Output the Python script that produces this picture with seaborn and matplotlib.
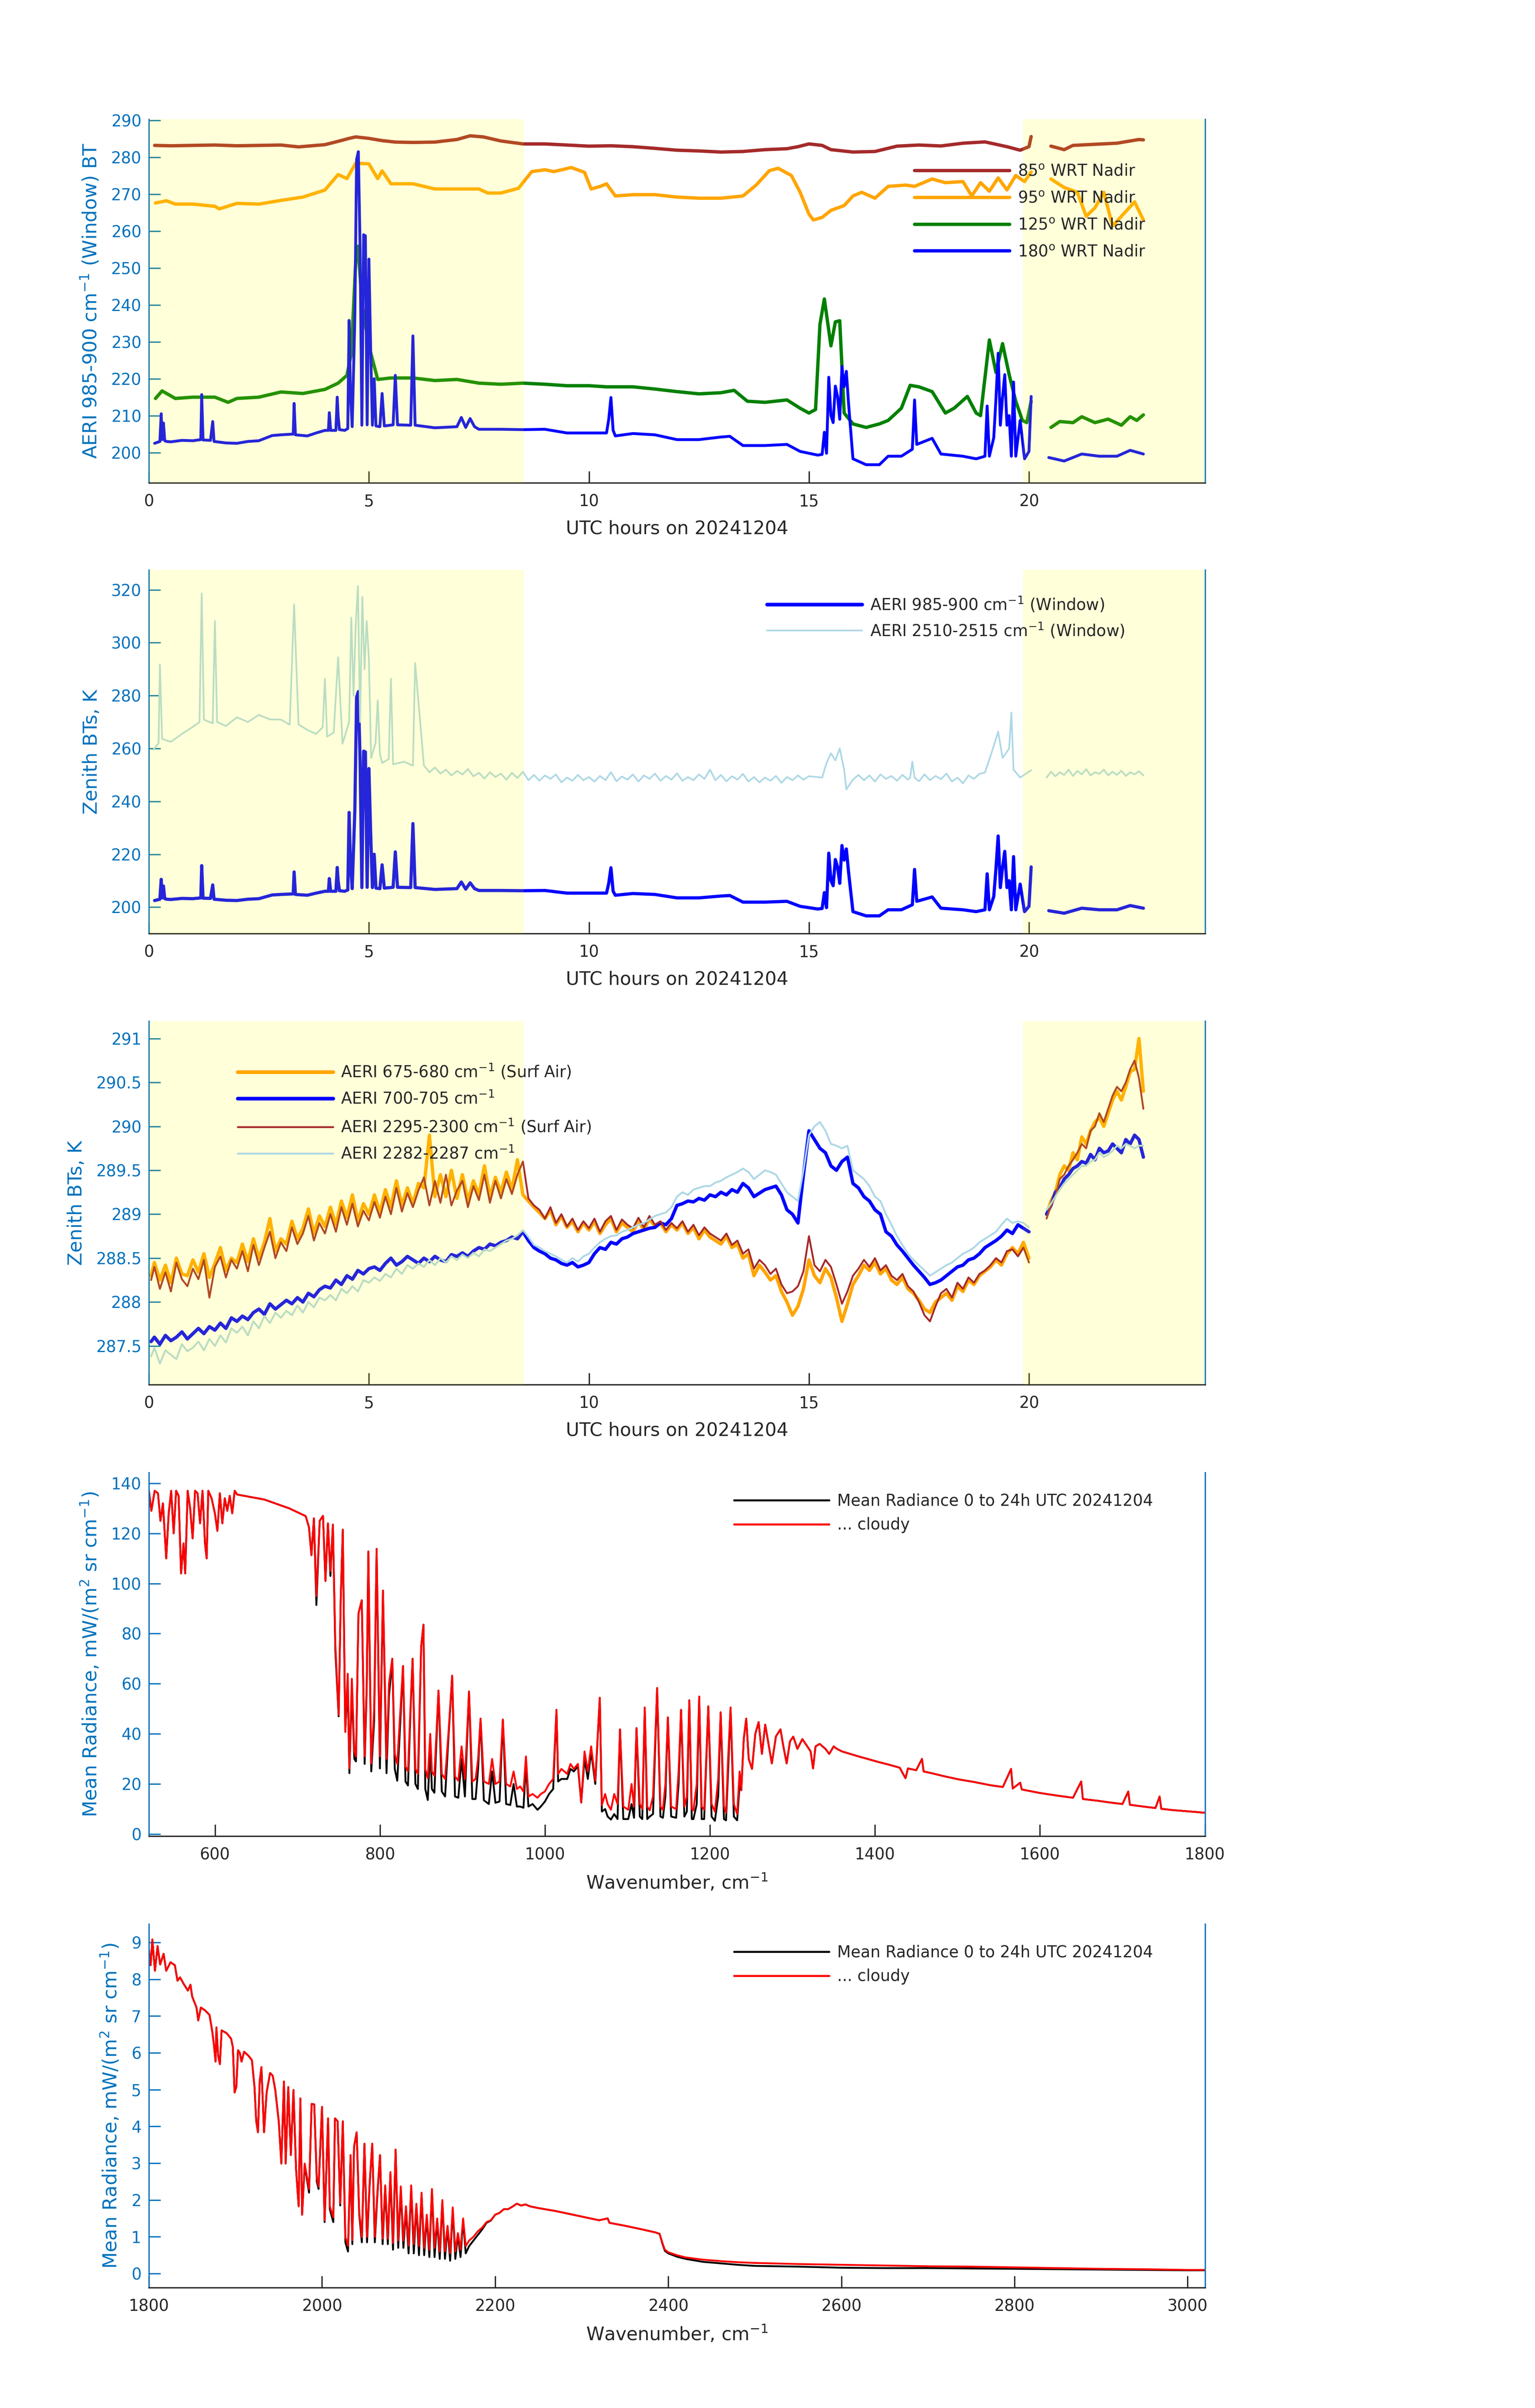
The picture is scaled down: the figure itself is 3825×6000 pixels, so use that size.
import numpy as np
import pandas as pd
import matplotlib
matplotlib.use('Agg')
import matplotlib.pyplot as plt
from matplotlib.lines import Line2D
from matplotlib.ticker import FuncFormatter
import seaborn as sns

nan = np.nan

# ---------------- panel 1 / 2 : window BTs vs UTC hour ----------------
T_85 = [0.13, 0.5, 1.0, 1.5, 2.0, 2.5, 3.0, 3.4, 3.7, 4.0,
        4.3, 4.55, 4.7, 5.0, 5.3, 5.6, 6.0, 6.5, 7.0, 7.3,
        7.6, 8.0, 8.5, 9.0, 9.5, 10.0, 10.5, 11.0, 11.5, 12.0,
        12.5, 13.0, 13.5, 14.0, 14.5, 14.75, 15.0, 15.3, 15.5, 16.0,
        16.5, 17.0, 17.5, 18.0, 18.5, 19.0, 19.5, 19.8, 20.0, 20.05,
        nan, 20.5, 20.8, 21.0, 21.5, 22.0, 22.5, 22.6]
BT_85 = [283.2, 283.1, 283.2, 283.3, 283.1, 283.2, 283.3, 282.8, 283.1, 283.4,
         284.3, 285.1, 285.5, 285.1, 284.5, 284.1, 284.0, 284.1, 284.8, 285.8,
         285.5, 284.4, 283.6, 283.6, 283.3, 283.0, 283.1, 282.85, 282.4, 281.9,
         281.7, 281.4, 281.55, 282.05, 282.3, 282.85, 283.6, 283.2, 282.05, 281.4,
         281.55, 283.0, 283.3, 283.05, 283.8, 284.15, 282.85, 281.9, 282.85, 285.6,
         nan, 283.0, 282.05, 283.2, 283.5, 283.8, 284.8, 284.7]

T_95 = [0.15, 0.4, 0.6, 1.0, 1.5, 1.6, 2.0, 2.5, 3.0, 3.5,
        4.0, 4.3, 4.5, 4.7, 5.0, 5.2, 5.3, 5.5, 6.0, 6.5,
        7.0, 7.5, 7.7, 8.0, 8.4, 8.7, 9.0, 9.2, 9.6, 9.9,
        10.05, 10.26, 10.4, 10.6, 11.0, 11.5, 12.0, 12.5, 13.0, 13.5,
        13.8, 14.1, 14.3, 14.6, 14.8, 15.0, 15.1, 15.3, 15.5, 15.8,
        16.0, 16.2, 16.5, 16.8, 17.2, 17.4, 17.6, 17.8, 18.1, 18.5,
        18.7, 18.9, 19.1, 19.3, 19.5, 19.7, 19.9, 20.05,
        nan, 20.5, 20.8, 21.1, 21.3, 21.5, 21.7, 21.9, 22.2, 22.4, 22.6]
BT_95 = [267.6, 268.2, 267.3, 267.3, 266.7, 266.0, 267.5, 267.3, 268.3, 269.2,
         271.1, 275.3, 274.2, 278.4, 278.2, 274.2, 276.3, 272.8, 272.8, 271.4,
         271.4, 271.4, 270.3, 270.3, 271.6, 276.1, 276.6, 276.1, 277.2, 275.9,
         271.4, 272.1, 272.8, 269.5, 269.85, 269.85, 269.2, 268.9, 268.9, 269.5,
         272.45, 276.35, 277.0, 275.05, 270.5, 264.6, 263.0, 263.7, 265.6, 266.9,
         269.5, 270.5, 268.9, 272.1, 272.45, 272.1, 273.1, 274.1, 273.1, 273.4,
         269.5, 273.1, 270.8, 274.4, 271.15, 275.05, 273.4, 276.0,
         nan, 274.1, 271.8, 270.5, 264.0, 266.3, 270.5, 261.4, 265.3, 267.9, 263.0]

T_125 = [0.15, 0.3, 0.6, 1.0, 1.5, 1.8, 2.0, 2.5, 3.0, 3.5,
         4.0, 4.3, 4.5, 4.6, 4.7, 4.75, 4.85, 5.0, 5.2, 5.5,
         6.0, 6.5, 7.0, 7.5, 8.0, 8.5, 9.0, 9.5, 10.0, 10.4,
         11.0, 11.5, 12.0, 12.5, 13.0, 13.3, 13.6, 14.0, 14.5, 14.8,
         15.0, 15.15, 15.25, 15.35, 15.5, 15.6, 15.7, 15.8, 16.0, 16.3,
         16.6, 16.8, 17.1, 17.3, 17.5, 17.8, 18.1, 18.3, 18.6, 18.8,
         18.9, 19.1, 19.25, 19.4, 19.55, 19.7, 19.85, 19.95, 20.05,
         nan, 20.5, 20.7, 21.0, 21.2, 21.5, 21.8, 22.1, 22.3, 22.45, 22.6]
BT_125 = [214.65, 216.7, 214.65, 215.0, 215.0, 213.6, 214.65, 215.0, 216.4, 216.0,
          217.1, 218.8, 220.9, 226.8, 251.7, 255.9, 239.9, 228.85, 219.8, 220.2,
          220.2, 219.5, 219.8, 218.8, 218.5, 218.8, 218.5, 218.1, 218.1, 217.8,
          217.8, 217.2, 216.5, 215.9, 216.2, 216.85, 213.9, 213.6, 214.25, 212.0,
          210.7, 211.65, 234.7, 241.6, 228.9, 235.4, 235.7, 210.7, 207.75, 206.8,
          207.75, 208.7, 212.0, 218.2, 217.8, 216.5, 210.7, 212.0, 215.2, 210.7,
          210.0, 230.5, 221.7, 229.5, 221.1, 213.9, 208.7, 208.1, 213.9,
          nan, 206.8, 208.4, 208.1, 209.7, 208.1, 209.05, 207.4, 209.7, 208.7, 210.2]

T_180 = [0.13, 0.25, 0.28, 0.3, 0.33, 0.36, 0.4, 0.5, 0.75, 1.0,
         1.18, 1.2, 1.23, 1.4, 1.45, 1.48, 1.75, 2.0, 2.25, 2.5,
         2.8, 3.0, 3.28, 3.3, 3.33, 3.6, 3.8, 4.0, 4.08, 4.1,
         4.13, 4.25, 4.28, 4.3, 4.33, 4.45, 4.52, 4.55, 4.58, 4.62,
         4.68, 4.72, 4.76, 4.8, 4.84, 4.88, 4.92, 4.96, 5.0, 5.04,
         5.08, 5.12, 5.16, 5.25, 5.3, 5.35, 5.55, 5.6, 5.65, 5.95,
         6.0, 6.05, 6.5, 7.0, 7.1, 7.2, 7.3, 7.4, 7.5, 8.0,
         8.5, 9.0, 9.5, 10.0, 10.4, 10.45, 10.5, 10.55, 10.6, 11.0,
         11.5, 12.0, 12.5, 13.0, 13.2, 13.5, 14.0, 14.5, 14.8, 15.2,
         15.3, 15.35, 15.4, 15.45, 15.5, 15.55, 15.6, 15.65, 15.7, 15.75,
         15.8, 15.85, 15.9, 16.0, 16.3, 16.6, 16.8, 17.1, 17.35, 17.4,
         17.45, 17.8, 18.0, 18.5, 18.8, 19.0, 19.05, 19.1, 19.2, 19.25,
         19.3, 19.35, 19.4, 19.45, 19.5, 19.55, 19.6, 19.65, 19.7, 19.8,
         19.9, 20.0, 20.05, nan, 20.45, 20.8, 21.2, 21.6, 22.0, 22.3,
         22.6]
BT_180 = [202.5, 203.0, 210.5, 203.5, 208.0, 203.2, 203.0, 202.9, 203.3, 203.2,
          203.5, 215.7, 203.4, 203.3, 208.4, 203.0, 202.6, 202.5, 203.0, 203.2,
          204.6, 204.8, 205.0, 213.3, 204.8, 204.5, 205.3, 206.0, 206.0, 210.8,
          206.0, 206.0, 215.0, 210.0, 206.2, 206.0, 206.5, 235.8, 216.4, 207.0,
          236.5, 279.4, 281.5, 255.2, 207.4, 259.0, 258.7, 207.5, 252.4, 227.8,
          207.4, 220.0, 207.2, 207.0, 216.0, 207.2, 207.5, 220.9, 207.5, 207.4,
          231.6, 207.4, 206.7, 207.0, 209.5, 206.8, 209.2, 207.0, 206.3, 206.3,
          206.2, 206.3, 205.3, 205.3, 205.3, 209.0, 214.9, 206.0, 204.5, 205.15,
          204.8, 203.5, 203.5, 204.2, 204.4, 201.9, 201.9, 202.2, 200.3, 199.3,
          199.5, 205.5, 199.8, 220.4, 210.0, 208.1, 218.0, 215.2, 209.0, 223.3,
          217.8, 222.0, 213.3, 198.3, 196.7, 196.7, 199.0, 199.0, 200.9, 214.25,
          202.2, 203.85, 199.6, 199.0, 198.3, 199.0, 212.6, 199.0, 204.0, 214.6,
          226.9, 207.4, 215.0, 221.1, 207.4, 210.0, 199.0, 219.1, 199.0, 208.7,
          198.3, 200.3, 215.2, nan, 198.65, 197.7, 199.6, 199.0, 199.0, 200.6,
          199.6]

T_2510 = [0.1, 0.22, 0.25, 0.3, 0.5, 0.75, 1.0, 1.15, 1.2, 1.25,
          1.45, 1.5, 1.55, 1.75, 2.0, 2.25, 2.5, 2.75, 3.0, 3.2,
          3.3, 3.4, 3.6, 3.8, 3.95, 4.0, 4.05, 4.2, 4.3, 4.4,
          4.55, 4.6, 4.65, 4.7, 4.75, 4.8, 4.85, 4.9, 4.95, 5.0,
          5.05, 5.15, 5.2, 5.25, 5.3, 5.45, 5.5, 5.55, 5.8, 6.0,
          6.05,
          6.25, 6.375, 6.5, 6.625, 6.75, 6.875, 7.0, 7.125,
          7.25, 7.375, 7.5, 7.625, 7.75, 7.875, 8.0, 8.125,
          8.25, 8.375, 8.5, 8.625, 8.75, 8.875, 9.0, 9.125,
          9.25, 9.375, 9.5, 9.625, 9.75, 9.875, 10.0, 10.125,
          10.25, 10.375, 10.5, 10.625, 10.75, 10.875, 11.0, 11.125,
          11.25, 11.375, 11.5, 11.625, 11.75, 11.875, 12.0, 12.125,
          12.25, 12.375, 12.5, 12.625, 12.75, 12.875, 13.0, 13.125,
          13.25, 13.375, 13.5, 13.625, 13.75, 13.875, 14.0, 14.125,
          14.25, 14.375, 14.5, 14.625, 14.75, 14.875, 15.0,
          15.3, 15.4, 15.5, 15.6, 15.7, 15.8, 15.85, 16.0,
          16.125, 16.25, 16.375, 16.5, 16.625, 16.75, 16.875, 17.0,
          17.125, 17.25, 17.3, 17.35, 17.4, 17.5, 17.625, 17.75,
          17.875, 18.0, 18.125, 18.25, 18.375, 18.5, 18.625, 18.75,
          18.875, 19.0,
          19.2, 19.3, 19.4, 19.55, 19.6, 19.65, 19.8, 20.05, nan,
          20.4, 20.5, 20.6, 20.7, 20.8, 20.9, 21.0, 21.1, 21.2, 21.3,
          21.4, 21.5, 21.6, 21.7, 21.8, 21.9, 22.0, 22.1, 22.2, 22.3,
          22.4, 22.5, 22.6]
BT_2510 = [259.5, 262.0, 291.8, 263.6, 262.5, 265.5, 268.2, 270.0, 318.6, 270.9,
           269.5, 308.2, 270.0, 268.5, 271.8, 270.0, 272.7, 271.0, 270.9, 269.0,
           314.5, 269.1, 267.0, 265.5, 268.0, 286.4, 264.5, 266.0, 294.5, 261.8,
           270.0, 309.5, 280.0, 306.4, 321.4, 270.0, 317.3, 290.0, 308.2, 293.6,
           256.4, 262.0, 278.2, 258.0, 254.5, 256.0, 286.4, 254.0, 255.0, 253.5,
           292.3,
           253.6, 251.0, 252.8, 250.5, 252.0, 249.8, 251.5, 250.2,
           252.2, 249.5, 250.8, 248.6, 251.0, 249.2, 250.5, 248.2,
           250.8, 248.8, 251.2, 248.0, 250.0, 247.8, 249.8, 248.5,
           250.2, 247.2, 249.0, 247.8, 250.0, 248.0, 249.2, 247.5,
           249.6, 248.0, 251.0, 247.6, 249.4, 248.2, 250.2, 247.5,
           249.8, 248.5, 250.5, 247.8, 249.6, 248.2, 250.6, 247.8,
           249.2, 248.0, 250.2, 248.5, 252.0, 248.0, 250.0, 247.6,
           249.5, 248.2, 250.4, 247.5, 249.2, 247.2, 249.0, 247.8,
           249.6, 247.0, 249.2, 248.0, 249.8, 248.2, 249.5,
           249.0, 254.5, 258.2, 255.5, 260.0, 252.0, 244.5, 248.2,
           250.0, 248.0, 249.8, 247.5, 250.2, 248.5, 249.6, 247.8,
           250.0, 248.2, 249.0, 255.0, 249.0, 247.6, 250.2, 248.0,
           249.6, 248.4, 250.5, 247.5, 249.0, 246.8, 249.8, 248.5,
           250.4, 250.9,
           260.9, 266.4, 256.4, 260.0, 273.6, 252.0, 249.0, 251.8, nan,
           249.0, 251.2, 249.5, 251.0, 250.0, 252.0, 249.6, 251.5, 250.2, 252.2,
           249.8, 251.0, 250.4, 252.0, 249.8, 251.2, 250.0, 251.6, 249.6, 251.0,
           250.2, 251.4, 249.8]

# ---------------- panel 3 : surface-air channels ----------------
T3 = [0.05, 0.125, 0.25, 0.375, 0.5, 0.625, 0.75, 0.875, 1.0,
      1.125, 1.25, 1.375, 1.5, 1.625, 1.75, 1.875, 2.0,
      2.125, 2.25, 2.375, 2.5, 2.625, 2.75, 2.875, 3.0,
      3.125, 3.25, 3.375, 3.5, 3.625, 3.75, 3.875, 4.0,
      4.125, 4.25, 4.375, 4.5, 4.625, 4.75, 4.875, 5.0,
      5.125, 5.25, 5.375, 5.5, 5.625, 5.75, 5.875, 6.0,
      6.125, 6.25, 6.375, 6.5, 6.625, 6.75, 6.875, 7.0,
      7.125, 7.25, 7.375, 7.5, 7.625, 7.75, 7.875, 8.0,
      8.125, 8.25, 8.375, 8.5, 8.625, 8.75, 8.875, 9.0,
      9.125, 9.25, 9.375, 9.5, 9.625, 9.75, 9.875, 10.0,
      10.125, 10.25, 10.375, 10.5, 10.625, 10.75, 10.875, 11.0,
      11.125, 11.25, 11.375, 11.5, 11.625, 11.75, 11.875, 12.0,
      12.125, 12.25, 12.375, 12.5, 12.625, 12.75, 12.875, 13.0,
      13.125, 13.25, 13.375, 13.5, 13.625, 13.75, 13.875, 14.0,
      14.125, 14.25, 14.375, 14.5, 14.625, 14.75, 14.875, 15.0,
      15.125, 15.25, 15.375, 15.5, 15.625, 15.75, 15.875, 16.0,
      16.125, 16.25, 16.375, 16.5, 16.625, 16.75, 16.875, 17.0,
      17.125, 17.25, 17.375, 17.5, 17.625, 17.75, 17.875, 18.0,
      18.125, 18.25, 18.375, 18.5, 18.625, 18.75, 18.875, 19.0,
      19.125, 19.25, 19.375, 19.5, 19.625, 19.75, 19.875, 20.0,
      nan,
      20.4, 20.5, 20.6, 20.7, 20.8, 20.9, 21.0, 21.1, 21.2, 21.3,
      21.4, 21.5, 21.6, 21.7, 21.8, 21.9, 22.0, 22.1, 22.2, 22.3,
      22.4, 22.5, 22.6]
BT_675 = [288.30, 288.45, 288.25, 288.42, 288.22, 288.50, 288.32, 288.30, 288.48,
          288.34, 288.55, 288.28, 288.44, 288.62, 288.36, 288.50, 288.45,
          288.66, 288.46, 288.72, 288.50, 288.68, 288.95, 288.58, 288.72,
          288.66, 288.92, 288.72, 288.84, 289.06, 288.78, 288.98, 288.86,
          289.08, 288.88, 289.15, 288.96, 289.22, 288.92, 289.12, 289.00,
          289.22, 289.02, 289.28, 289.08, 289.38, 289.10, 289.30, 289.12,
          289.35, 289.30, 289.90, 289.20, 289.45, 289.20, 289.50, 289.18,
          289.45, 289.15, 289.38, 289.22, 289.55, 289.20, 289.42, 289.25,
          289.48, 289.28, 289.62, 289.22, 289.15, 289.08, 289.02, 288.95,
          289.05, 288.88, 288.98, 288.85, 288.92, 288.80, 288.90, 288.82,
          288.92, 288.78, 288.88, 288.95, 288.80, 288.90, 288.85, 288.80,
          288.92, 288.82, 288.95, 288.86, 288.90, 288.80, 288.88, 288.82,
          288.90, 288.78, 288.85, 288.72, 288.82, 288.74, 288.70, 288.66,
          288.75, 288.62, 288.66, 288.50, 288.55, 288.30, 288.42, 288.34,
          288.25, 288.30, 288.12, 288.00, 287.85, 287.95, 288.15, 288.48,
          288.30, 288.22, 288.38, 288.28, 288.05, 287.78, 287.98, 288.20,
          288.30, 288.42, 288.36, 288.45, 288.32, 288.38, 288.25, 288.20,
          288.28, 288.15, 288.10, 288.02, 287.92, 287.88, 288.00, 288.05,
          288.10, 288.02, 288.18, 288.12, 288.25, 288.20, 288.30, 288.35,
          288.40, 288.48, 288.42, 288.55, 288.62, 288.55, 288.68, 288.50,
          nan,
          289.00, 289.15, 289.25, 289.45, 289.55, 289.50, 289.70, 289.62, 289.88, 289.80,
          289.95, 290.05, 290.10, 290.00, 290.15, 290.30, 290.40, 290.30, 290.45, 290.62,
          290.65, 291.00, 290.40]
BT_700 = [287.55, 287.60, 287.52, 287.62, 287.56, 287.60, 287.66, 287.58, 287.64,
          287.70, 287.64, 287.72, 287.68, 287.76, 287.70, 287.82, 287.78,
          287.84, 287.80, 287.88, 287.92, 287.86, 287.98, 287.92, 287.97,
          288.02, 287.98, 288.05, 288.00, 288.10, 288.06, 288.14, 288.18,
          288.16, 288.25, 288.20, 288.30, 288.26, 288.36, 288.32, 288.38,
          288.40, 288.36, 288.44, 288.50, 288.42, 288.46, 288.52, 288.48,
          288.44, 288.50, 288.46, 288.52, 288.48, 288.46, 288.54, 288.52,
          288.56, 288.52, 288.58, 288.62, 288.60, 288.66, 288.64, 288.68,
          288.70, 288.74, 288.72, 288.80, 288.70, 288.62, 288.58, 288.55,
          288.50, 288.48, 288.44, 288.42, 288.45, 288.40, 288.42, 288.45,
          288.55, 288.62, 288.60, 288.68, 288.66, 288.72, 288.74, 288.78,
          288.80, 288.82, 288.84, 288.85, 288.90, 288.88, 288.95, 289.10,
          289.12, 289.15, 289.14, 289.18, 289.16, 289.22, 289.20, 289.25,
          289.22, 289.28, 289.25, 289.35, 289.30, 289.20, 289.24, 289.28,
          289.30, 289.32, 289.22, 289.05, 289.00, 288.90, 289.45, 289.95,
          289.85, 289.75, 289.70, 289.55, 289.50, 289.60, 289.65, 289.35,
          289.30, 289.20, 289.15, 289.05, 289.00, 288.80, 288.75, 288.65,
          288.58, 288.50, 288.42, 288.35, 288.28, 288.20, 288.22, 288.25,
          288.30, 288.35, 288.40, 288.42, 288.48, 288.50, 288.55, 288.62,
          288.66, 288.70, 288.75, 288.82, 288.78, 288.88, 288.84, 288.80,
          nan,
          289.00, 289.10, 289.25, 289.30, 289.40, 289.45, 289.52, 289.55, 289.60, 289.58,
          289.68, 289.62, 289.75, 289.70, 289.72, 289.80, 289.75, 289.70, 289.85, 289.80,
          289.90, 289.85, 289.65]
BT_2295 = [288.25, 288.40, 288.15, 288.34, 288.12, 288.45, 288.26, 288.18, 288.38,
           288.26, 288.48, 288.05, 288.40, 288.52, 288.28, 288.48, 288.38,
           288.58, 288.35, 288.65, 288.42, 288.62, 288.80, 288.50, 288.68,
           288.58, 288.85, 288.66, 288.78, 288.98, 288.70, 288.90, 288.78,
           289.00, 288.80, 289.08, 288.88, 289.12, 288.86, 289.04, 288.93,
           289.14, 288.96, 289.20, 289.00, 289.30, 289.03, 289.24, 289.08,
           289.27, 289.42, 289.10, 289.38, 289.13, 289.45, 289.10, 289.27,
           289.38, 289.08, 289.32, 289.16, 289.45, 289.13, 289.38, 289.18,
           289.40, 289.23, 289.45, 289.60, 289.18, 289.10, 289.05, 288.95,
           289.08, 288.90, 289.00, 288.86, 288.95, 288.82, 288.92, 288.84,
           288.95, 288.80, 288.92, 288.98, 288.82, 288.94, 288.88, 288.84,
           288.96, 288.85, 288.98, 288.88, 288.92, 288.82, 288.90, 288.84,
           288.92, 288.80, 288.88, 288.76, 288.85, 288.78, 288.74, 288.70,
           288.78, 288.65, 288.70, 288.55, 288.60, 288.38, 288.48, 288.42,
           288.32, 288.38, 288.20, 288.10, 288.12, 288.18, 288.35, 288.75,
           288.42, 288.35, 288.48, 288.40, 288.20, 287.98, 288.12, 288.30,
           288.38, 288.48, 288.40, 288.50, 288.36, 288.42, 288.30, 288.25,
           288.32, 288.18, 288.12, 288.00, 287.85, 287.78, 287.95, 288.10,
           288.15, 288.05, 288.22, 288.15, 288.28, 288.22, 288.32, 288.36,
           288.42, 288.50, 288.45, 288.58, 288.60, 288.52, 288.62, 288.45,
           nan,
           288.95, 289.10, 289.20, 289.40, 289.45, 289.55, 289.62, 289.70, 289.80, 289.75,
           289.95, 290.00, 290.15, 290.05, 290.20, 290.35, 290.45, 290.40, 290.50, 290.65,
           290.75, 290.55, 290.20]
BT_2282 = [287.38, 287.48, 287.30, 287.45, 287.40, 287.35, 287.52, 287.44, 287.48,
           287.55, 287.45, 287.58, 287.50, 287.62, 287.54, 287.70, 287.65,
           287.72, 287.62, 287.78, 287.70, 287.84, 287.76, 287.88, 287.82,
           287.90, 287.85, 287.96, 287.88, 288.00, 287.94, 288.05, 288.02,
           288.08, 288.02, 288.15, 288.10, 288.18, 288.12, 288.25, 288.22,
           288.28, 288.24, 288.32, 288.28, 288.38, 288.32, 288.42, 288.38,
           288.44, 288.40, 288.48, 288.42, 288.50, 288.45, 288.52, 288.48,
           288.54, 288.50, 288.56, 288.52, 288.60, 288.58, 288.62, 288.66,
           288.70, 288.72, 288.76, 288.82, 288.74, 288.65, 288.62, 288.58,
           288.55, 288.52, 288.48, 288.45, 288.50, 288.46, 288.52, 288.55,
           288.62, 288.68, 288.72, 288.75, 288.76, 288.80, 288.82, 288.85,
           288.88, 288.90, 288.94, 288.98, 289.00, 289.02, 289.08, 289.20,
           289.25, 289.22, 289.28, 289.30, 289.32, 289.32, 289.36, 289.38,
           289.42, 289.45, 289.48, 289.52, 289.48, 289.40, 289.45, 289.50,
           289.48, 289.45, 289.35, 289.25, 289.20, 289.15, 289.50, 289.90,
           290.00, 290.05, 289.95, 289.80, 289.78, 289.75, 289.78, 289.50,
           289.45, 289.40, 289.32, 289.20, 289.15, 289.00, 288.88, 288.75,
           288.65, 288.55, 288.48, 288.42, 288.36, 288.30, 288.34, 288.38,
           288.42, 288.45, 288.50, 288.55, 288.58, 288.62, 288.68, 288.72,
           288.76, 288.80, 288.88, 288.95, 288.90, 288.92, 288.90, 288.85,
           nan,
           289.05, 289.12, 289.20, 289.28, 289.35, 289.40, 289.45, 289.50, 289.55, 289.55,
           289.60, 289.62, 289.70, 289.65, 289.68, 289.72, 289.78, 289.75, 289.80, 289.78,
           289.75, 289.78, 289.78]

# shaded hour ranges (hours UTC)
SHADE_SPANS = [(0.0, 8.52), (19.86, 24.0)]

# ---------------- panel 4 : mean radiance 520-1800 ----------------
WN4 = [520, 523, 527, 531, 534, 537, 541, 544, 547, 550,
       553, 556, 559, 562, 564, 567, 570, 573, 576, 579,
       582, 585, 588, 590, 592, 596, 600, 603, 606, 609,
       612, 615, 618, 621, 624, 627, 660, 690, 710, 714,
       717, 720, 723, 727, 731, 734, 737, 740, 743, 746,
       750, 752.5, 755, 758, 761, 763, 766, 769, 771, 774,
       778, 781.5, 784, 786, 789.5, 793, 796, 800, 803.7, 808,
       811, 815, 818, 821, 824, 828, 831, 834, 837, 839.6,
       843, 846, 850, 852.8, 855, 858, 861, 863, 866, 871,
       875, 879, 883, 887.6, 891, 895, 899, 903, 908, 912,
       916, 919, 922, 926, 932, 936, 940, 945, 949, 953,
       958, 962, 966, 970, 974, 977, 980, 985, 991, 995,
       1000, 1005, 1010, 1014, 1016, 1020, 1027, 1031, 1035, 1040,
       1044, 1048, 1052, 1056, 1061, 1066.5, 1069, 1073, 1076, 1080,
       1084, 1088, 1091, 1095, 1101, 1105, 1108, 1111, 1115, 1118,
       1121, 1124, 1127, 1131, 1136, 1140, 1143, 1146, 1149, 1153,
       1159, 1162, 1165, 1169, 1172, 1175, 1178, 1180, 1184, 1187,
       1190, 1193, 1198, 1202, 1206, 1210, 1213, 1217, 1219.5, 1222,
       1225, 1229, 1233, 1236, 1238, 1241, 1244, 1247, 1251, 1255,
       1259, 1263, 1267, 1271, 1275, 1280, 1285.5, 1289, 1293, 1297,
       1301, 1306, 1312, 1318, 1322, 1325, 1328, 1333, 1340, 1344.6,
       1350, 1354, 1360, 1365, 1380, 1391, 1405, 1417, 1430, 1437,
       1440, 1450, 1457, 1459, 1470, 1485, 1502, 1520, 1540, 1555,
       1565, 1567, 1576, 1578, 1600, 1620, 1640, 1650, 1652, 1670,
       1685, 1700, 1707, 1709, 1725, 1740, 1745, 1747, 1760, 1775,
       1790, 1800]
RAD4_ALL = [137, 129, 137, 136, 125, 132, 110, 128, 137, 120,
            137, 135, 104, 116, 104, 137, 130, 118, 137, 136,
            124, 137, 116, 110, 137, 134, 128, 121, 136, 124,
            134, 129, 135, 128, 137, 135.5, 133.5, 130, 126.9, 122.5,
            111.3, 126, 91.4, 125, 127, 101, 124, 103, 123.5, 72.9,
            47, 93.3, 121.5, 40.8, 60, 24.3, 58, 30, 29, 88,
            93.3, 28, 58, 112.8, 25, 45, 113.8, 26.2, 97.2, 24.3,
            55, 70, 26, 21.3, 40, 67.1, 21, 19.4, 48, 70,
            20, 18, 74.8, 83.6, 18, 13.6, 35, 18, 16.5, 57.3,
            17, 15, 38, 63.2, 15, 14.5, 30, 15, 56.9, 14,
            14, 26, 46.1, 13.5, 12, 25, 12.5, 13, 45.7, 12,
            11.6, 20, 11, 11, 10.5, 28, 11, 12, 9.7, 11,
            13, 16, 18, 49.6, 21, 22, 22, 26, 25, 27,
            12.6, 30, 22, 33, 20, 54.4, 9, 10, 7, 5.8,
            8, 6, 41.8, 6, 6, 12, 6.5, 42.3, 7, 6,
            50.5, 6, 7, 8, 58.3, 7, 6.5, 15, 46.6, 7,
            6.5, 20, 49.6, 7, 9, 53.4, 6, 6, 12, 54.9,
            6, 6, 51, 7, 5.3, 15, 48.6, 6, 5.5, 25,
            50.5, 7, 5.5, 20, 17.5, 38, 46.1, 30, 26, 40,
            44.7, 32, 43.7, 36, 28.2, 39, 41.8, 35, 28.2, 37,
            38.9, 34, 37.9, 35, 33, 26.2, 35, 36, 34, 32,
            35, 34, 33, 32.5, 31, 30, 28.7, 27.7, 26.5, 22.3,
            26.2, 25.5, 30, 25, 24.2, 23, 21.8, 20.8, 19.5, 18.8,
            26, 18.2, 20.5, 17.8, 16.4, 15.4, 14.5, 21, 14, 13.3,
            12.6, 12, 17, 11.7, 11, 10.4, 15, 10.1, 9.6, 9.2,
            8.8, 8.5]
RAD4_CLOUDY = [137, 129, 137, 136, 125, 132, 110, 128, 137, 120,
               137, 135, 104, 116, 104, 137, 130, 118, 137, 136,
               124, 137, 116, 110, 137, 134, 128, 121, 136, 124,
               134, 129, 135, 128, 137, 135.5, 133.5, 130, 126.9, 122.5,
               111.3, 126, 95, 125, 127, 101, 124, 105, 123.5, 75.8,
               47.6, 93.3, 121.5, 40.8, 64, 26.2, 62, 33, 31, 88,
               93.3, 31, 60, 112.8, 28.2, 50, 113.8, 31, 97.2, 30,
               60, 70, 32, 28, 45, 67.1, 27, 25, 50, 70,
               26, 24, 74.8, 83.6, 26, 22.3, 40, 25, 23.3, 57.3,
               24, 22, 40, 63.2, 23, 21.3, 35, 22, 56.9, 21,
               22, 30, 46.1, 21, 20, 30, 20, 21, 45.7, 20,
               19, 25, 18, 19, 17, 31, 15, 16, 14.5, 16,
               17, 20, 22, 49.6, 24, 26, 24, 28, 26, 28,
               12.6, 33, 25, 35, 21.3, 54.4, 11.6, 16, 12, 9.7,
               16, 12, 41.8, 11, 9.7, 20, 11, 42.3, 12, 10,
               50.5, 11, 9.5, 15, 58.3, 11, 9.7, 20, 46.6, 11,
               10, 25, 49.6, 11, 15, 53.4, 10, 9.5, 20, 54.9,
               11, 9.7, 51, 12, 9, 22, 48.6, 11, 8.5, 30,
               50.5, 12, 8, 25, 17.5, 38, 46.1, 30, 26, 40,
               44.7, 32, 43.7, 36, 28.2, 39, 41.8, 35, 28.2, 37,
               38.9, 34, 37.9, 35, 33, 26.2, 35, 36, 34, 32,
               35, 34, 33, 32.5, 31, 30, 28.7, 27.7, 26.5, 22.3,
               26.2, 25.5, 30, 25, 24.2, 23, 21.8, 20.8, 19.5, 18.8,
               26, 18.2, 20.5, 17.8, 16.4, 15.4, 14.5, 21, 14, 13.3,
               12.6, 12, 17, 11.7, 11, 10.4, 15, 10.1, 9.6, 9.2,
               8.8, 8.5]

# ---------------- panel 5 : mean radiance 1800-3020 ----------------
WN5 = [1800, 1802, 1804, 1807, 1810, 1813, 1817, 1820, 1825, 1830,
       1833, 1836, 1840, 1845, 1848, 1850, 1855, 1857, 1860, 1865,
       1870, 1873, 1875, 1877, 1878, 1880, 1882, 1884, 1890, 1895,
       1897, 1899, 1901, 1903, 1905, 1907, 1910, 1915, 1919, 1922,
       1924, 1926, 1928, 1930, 1933, 1936, 1940, 1943, 1946, 1950,
       1953, 1956, 1958, 1961, 1964, 1967, 1970, 1973, 1975, 1977,
       1980, 1985, 1988, 1991, 1994, 1996, 2000, 2003, 2007, 2009,
       2013, 2015, 2018, 2021, 2024, 2027, 2030, 2033, 2035, 2037,
       2040, 2043, 2046, 2049, 2052, 2055, 2058, 2061, 2064, 2067,
       2070, 2073, 2076, 2079, 2082, 2085, 2088, 2091, 2094, 2097,
       2100, 2103, 2106, 2109, 2112, 2115, 2118, 2121, 2124, 2127,
       2130, 2133, 2136, 2139, 2142, 2145, 2148, 2151, 2154, 2157,
       2160, 2163, 2166, 2170, 2175, 2180, 2185, 2190, 2195, 2200,
       2205, 2210, 2215, 2220, 2225, 2230, 2235, 2240, 2250, 2270,
       2300, 2320, 2330, 2332, 2350, 2370, 2385, 2390, 2393, 2396,
       2400, 2410, 2420, 2440, 2460, 2480, 2500, 2550, 2600, 2650,
       2700, 2750, 2800, 2850, 2900, 2950, 3000, 3020]
RAD5_ALL = [8.8, 8.38, 9.08, 8.23, 8.9, 8.4, 8.69, 8.23, 8.46, 8.38,
            7.96, 8.05, 7.88, 7.69, 7.85, 7.53, 7.23, 6.88, 7.23, 7.15,
            7.03, 6.61, 6.25, 5.76, 6.69, 5.92, 5.69, 6.61, 6.53, 6.38,
            6.15, 4.92, 5.07, 6.07, 6.0, 5.76, 6.03, 5.92, 5.8, 5.07,
            4.14, 3.84, 5.22, 5.61, 3.84, 4.92, 5.45, 5.38, 4.99, 4.14,
            2.99, 5.22, 2.99, 5.07, 3.22, 4.99, 2.84, 1.83, 4.76, 1.6,
            2.95, 2.2, 4.61, 4.6, 2.5, 2.3, 4.53, 1.4, 4.22, 1.75,
            1.4, 4.22, 4.14, 1.85, 4.14, 0.85, 0.6, 3.22, 0.8, 3.45,
            3.84, 1.6, 0.85, 3.53, 0.85, 2.4, 3.53, 0.85, 2.15, 3.22,
            0.8, 2.35, 0.8, 2.7, 0.65, 3.37, 0.7, 2.3, 0.7, 1.75,
            0.55, 2.35, 0.55, 1.85, 0.5, 2.15, 0.5, 1.55, 0.45, 2.25,
            0.45, 1.45, 0.4, 1.95, 0.4, 1.25, 0.35, 1.75, 0.4, 1.05,
            0.45, 1.45, 0.55, 0.75, 0.9, 1.05, 1.2, 1.38, 1.44, 1.6,
            1.65, 1.75, 1.75, 1.82, 1.9, 1.85, 1.88, 1.83, 1.78, 1.7,
            1.55, 1.45, 1.5, 1.38, 1.3, 1.2, 1.12, 1.08, 0.83, 0.62,
            0.55, 0.46, 0.4, 0.32, 0.28, 0.24, 0.21, 0.19, 0.16, 0.15,
            0.15, 0.14, 0.13, 0.12, 0.11, 0.1, 0.09, 0.09]
RAD5_CLOUDY = [8.8, 8.38, 9.08, 8.23, 8.9, 8.4, 8.69, 8.23, 8.46, 8.38,
               7.96, 8.05, 7.88, 7.69, 7.85, 7.53, 7.23, 6.88, 7.23, 7.15,
               7.03, 6.61, 6.25, 5.76, 6.69, 5.92, 5.69, 6.61, 6.53, 6.38,
               6.15, 4.92, 5.07, 6.07, 6.0, 5.76, 6.03, 5.92, 5.8, 5.07,
               4.14, 3.84, 5.22, 5.61, 3.84, 4.92, 5.45, 5.38, 4.99, 4.14,
               2.99, 5.22, 2.99, 5.07, 3.22, 4.99, 2.84, 1.83, 4.76, 1.6,
               2.99, 2.3, 4.61, 4.6, 2.6, 2.37, 4.53, 1.45, 4.22, 1.83,
               1.53, 4.22, 4.14, 1.91, 4.14, 0.99, 0.76, 3.22, 0.91, 3.45,
               3.84, 1.68, 0.99, 3.53, 1.0, 2.45, 3.53, 1.0, 2.22, 3.22,
               0.95, 2.4, 0.95, 2.76, 0.83, 3.37, 0.9, 2.37, 0.9, 1.83,
               0.76, 2.4, 0.8, 1.9, 0.75, 2.2, 0.7, 1.6, 0.65, 2.3,
               0.7, 1.5, 0.6, 2.0, 0.6, 1.3, 0.55, 1.8, 0.6, 1.1,
               0.65, 1.5, 0.75, 0.9, 1.0, 1.15, 1.25, 1.4, 1.45, 1.6,
               1.65, 1.75, 1.75, 1.82, 1.9, 1.85, 1.88, 1.83, 1.78, 1.7,
               1.55, 1.45, 1.5, 1.38, 1.3, 1.2, 1.12, 1.08, 0.85, 0.65,
               0.58, 0.5, 0.44, 0.38, 0.34, 0.31, 0.29, 0.26, 0.24, 0.22,
               0.2, 0.19, 0.17, 0.15, 0.13, 0.12, 0.1, 0.1]

BLUE_AX = '#0072BD'
DARK = '#262626'

sns.set_theme(style='white')
plt.rcParams['font.family'] = ['DejaVu Sans']
plt.rcParams['mathtext.default'] = 'regular'


def draw(ax, x, y, color, lw):
    # nan in the data marks a gap in the record: draw each piece as its own unit
    x = np.asarray(x, float)
    y = np.asarray(y, float)
    seg = np.cumsum(np.isnan(y))
    ok = ~np.isnan(y)
    df = pd.DataFrame({'x': x[ok], 'y': y[ok], 'seg': seg[ok]})
    sns.lineplot(data=df, x='x', y='y', units='seg', estimator=None, sort=False,
                 color=color, lw=lw, ax=ax, legend=False)


def style(ax, xlim, ylim, xticks, yticks, xlabel, ylabel):
    ax.set_xlim(xlim)
    ax.set_ylim(ylim)
    ax.set_xticks(xticks)
    ax.set_yticks(yticks)
    ax.yaxis.set_major_formatter(FuncFormatter(lambda v, p: '{:g}'.format(v)))
    ax.spines['top'].set_visible(False)
    for s in ['left', 'right']:
        ax.spines[s].set_color(BLUE_AX)
        ax.spines[s].set_linewidth(0.8)
    ax.spines['bottom'].set_color(DARK)
    ax.spines['bottom'].set_linewidth(0.8)
    ax.tick_params(axis='y', direction='in', length=7, width=0.8, colors=BLUE_AX,
                   labelsize=9.5, pad=4.5, left=True, right=False)
    ax.tick_params(axis='x', direction='in', length=7, width=0.8, colors=DARK,
                   labelsize=9.5, pad=6.5, bottom=True, top=False)
    ax.set_xlabel(xlabel, fontsize=11, color=DARK, labelpad=6)
    ax.set_ylabel(ylabel, fontsize=11.5, color=BLUE_AX, labelpad=6)
    ax.grid(False)


def legend(ax, entries, anchor, spacing):
    handles = [Line2D([0], [0], color=c, lw=w) for c, w, _ in entries]
    labels = [l for _, _, l in entries]
    ax.legend(handles, labels, loc='upper left', bbox_to_anchor=anchor, frameon=False,
              fontsize=9.5, handlelength=6, handletextpad=0.5, labelspacing=spacing,
              borderpad=0, borderaxespad=0)


def shade(ax):
    for a, b in SHADE_SPANS:
        ax.axvspan(a, b, color='yellow', alpha=0.15, lw=0, zorder=4)


fig = plt.figure(figsize=(12.75, 20), dpi=300)
bottoms = [0.7995, 0.6123, 0.425, 0.2375, 0.050]
axs = [fig.add_axes([0.097, b, 0.688, 0.151]) for b in bottoms]
hours = 'UTC hours on 20241204'
wn_label = 'Wavenumber, cm$^{-1}$'
rad_label = 'Mean Radiance, mW/(m$^2$ sr cm$^{-1}$)'

# panel 1
ax = axs[0]
draw(ax, T_85, BT_85, 'brown', 2.0)
draw(ax, T_95, BT_95, 'orange', 2.0)
draw(ax, T_125, BT_125, 'green', 2.0)
draw(ax, T_180, BT_180, 'blue', 1.7)
shade(ax)
style(ax, (0, 24), (191.8, 290.3), [0, 5, 10, 15, 20], np.arange(200, 291, 10),
      hours, 'AERI 985-900 cm$^{-1}$ (Window) BT')
legend(ax, [('brown', 2.0, r'85$^\mathrm{o}$ WRT Nadir'),
            ('orange', 2.0, r'95$^\mathrm{o}$ WRT Nadir'),
            ('green', 2.0, r'125$^\mathrm{o}$ WRT Nadir'),
            ('blue', 2.0, r'180$^\mathrm{o}$ WRT Nadir')], (0.725, 0.878), 0.68)

# panel 2
ax = axs[1]
draw(ax, T_180, BT_180, 'blue', 1.9)
draw(ax, T_2510, BT_2510, 'lightblue', 1.0)
shade(ax)
style(ax, (0, 24), (190, 327.5), [0, 5, 10, 15, 20], np.arange(200, 321, 20),
      hours, 'Zenith BTs, K')
legend(ax, [('blue', 2.2, 'AERI 985-900 cm$^{-1}$ (Window)'),
            ('lightblue', 1.0, 'AERI 2510-2515 cm$^{-1}$ (Window)')], (0.585, 0.93), 0.5)

# panel 3
ax = axs[2]
draw(ax, T3, BT_675, 'orange', 2.0)
draw(ax, T3, BT_700, 'blue', 2.0)
draw(ax, T3, BT_2295, 'brown', 1.1)
draw(ax, T3, BT_2282, 'lightblue', 1.1)
shade(ax)
style(ax, (0, 24), (287.06, 291.2), [0, 5, 10, 15, 20], np.arange(287.5, 291.01, 0.5),
      hours, 'Zenith BTs, K')
legend(ax, [('orange', 2.2, 'AERI 675-680 cm$^{-1}$ (Surf Air)'),
            ('blue', 2.2, 'AERI 700-705 cm$^{-1}$'),
            ('brown', 1.1, 'AERI 2295-2300 cm$^{-1}$ (Surf Air)'),
            ('lightblue', 1.1, 'AERI 2282-2287 cm$^{-1}$')], (0.084, 0.885), 0.65)

# panel 4
ax = axs[3]
draw(ax, WN4, RAD4_ALL, 'black', 1.1)
draw(ax, WN4, RAD4_CLOUDY, 'red', 1.1)
style(ax, (520, 1800), (-0.8, 144.3), np.arange(600, 1801, 200), np.arange(0, 141, 20),
      wn_label, rad_label)
legend(ax, [('black', 1.2, 'Mean Radiance 0 to 24h UTC 20241204'),
            ('red', 1.2, '... cloudy')], (0.554, 0.943), 0.5)

# panel 5
ax = axs[4]
draw(ax, WN5, RAD5_ALL, 'black', 1.1)
draw(ax, WN5, RAD5_CLOUDY, 'red', 1.1)
style(ax, (1800, 3020), (-0.38, 9.5), np.arange(1800, 3001, 200), np.arange(0, 10, 1),
      wn_label, rad_label)
legend(ax, [('black', 1.2, 'Mean Radiance 0 to 24h UTC 20241204'),
            ('red', 1.2, '... cloudy')], (0.554, 0.943), 0.5)

fig.savefig('out.png', dpi=300)
